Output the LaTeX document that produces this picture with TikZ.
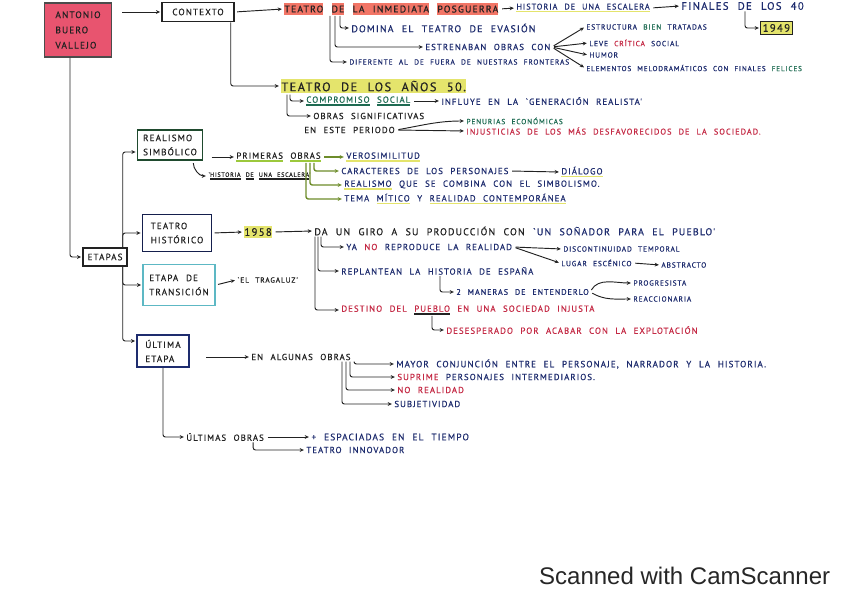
\documentclass[tikz,border=0pt]{standalone}
\usepackage{fontspec}
\setmainfont{Liberation Sans}
\newfontfamily\hand[LetterSpace=12,WordSpace={2.2},FakeBold=0.6]{PT Sans}
\usetikzlibrary{arrows.meta,positioning,calc}
\definecolor{boxred}{HTML}{E8546F}
\definecolor{hlred}{HTML}{F27566}
\definecolor{hlyel}{HTML}{E4E46C}
\definecolor{lime}{HTML}{9CC83C}
\definecolor{ink}{HTML}{222222}
\definecolor{navy}{HTML}{1E2C6E}
\definecolor{redink}{HTML}{C42A45}
\definecolor{greenink}{HTML}{1E6B52}
\definecolor{dkgreen}{HTML}{1F4A2E}
\definecolor{cyanbox}{HTML}{5DB8C4}
\newcommand{\hilite}[2]{\setbox0\hbox{#2}\rlap{\color{#1}\rule[-1.8pt]{\wd0}{\dimexpr\ht0+3.6pt\relax}}\box0\relax}
\newcommand{\undl}[2]{\setbox0\hbox{#2}\rlap{\color{#1}\rule[-2.4pt]{\wd0}{1.1pt}}\box0\relax}

\begin{document}
\begin{tikzpicture}[x=0.03cm, y=-0.03cm,
    txt/.style={anchor=west, inner sep=1pt, text=ink, font=\hand\fontsize{7.5}{8.5}\selectfont},
    big/.style={txt, font=\hand\fontsize{9.2}{10}\selectfont},
    mid/.style={txt, font=\hand\fontsize{8.4}{9.5}\selectfont},
    sm/.style={txt, font=\hand\fontsize{6.3}{7}\selectfont},
    etbox/.style={draw=ink, line width=1.3pt, align=left, inner sep=2pt,
                  font=\hand\fontsize{7.8}{12}\selectfont, text=ink},
    arr/.style={-{Stealth[length=3.5pt,width=3.2pt]}, line width=0.8pt, ink,
                shorten >=1pt, shorten <=2pt},
    hook/.style={arr, rounded corners=2pt, shorten <=0pt},
    garr/.style={arr, lime!70!black, line width=1.2pt},
  ]
  \useasboundingbox (0,0) rectangle (848,599);

  % boxes
  \node[etbox, fill=boxred, draw=black!70, line width=1pt, minimum width=2cm,
        minimum height=1.62cm, font=\hand\fontsize{8}{13}\selectfont] (abv) at (78,30) {ANTONIO\\BUERO\\VALLEJO};
  \node[etbox, minimum width=2.16cm, minimum height=0.57cm] (ctx) at (198,12) {CONTEXTO};
  \node[etbox, minimum width=1.32cm, minimum height=0.54cm] (etapas) at (105,257) {ETAPAS};
  \node[etbox, draw=dkgreen, minimum width=1.95cm, minimum height=0.9cm] (realismo) at (170,145) {REALISMO\\SIMBÓLICO};
  \node[etbox, draw=navy!70!black, minimum width=2.07cm, minimum height=1.11cm] (historico) at (177,233) {TEATRO\\HISTÓRICO};
  \node[etbox, draw=cyanbox, minimum width=2.16cm, minimum height=1.23cm] (transicion) at (179,285) {ETAPA DE\\TRANSICIÓN};
  \node[etbox, draw=navy, minimum width=1.56cm, minimum height=0.96cm] (ultima) at (163,351) {ÚLTIMA\\ETAPA};

  % contexto
  \node[mid, font=\hand\fontsize{8.3}{9.5}\selectfont] (posg) at (283,9) {\hilite{hlred}{TEATRO} \hilite{hlred}{DE} \hilite{hlred}{LA INMEDIATA} \hilite{hlred}{POSGUERRA}};
  \node[txt, text=navy, font=\hand\fontsize{7}{8}\selectfont] (escal) at (515,8) {\undl{hlyel}{HISTORIA DE UNA ESCALERA}};
  \node[big, text=navy] (finales) at (680,6) {FINALES DE LOS 40};
  \node[big, fill=hlyel, draw=ink, line width=0.6pt, inner sep=2pt] (y1949) at (760,28) {1949};
  \node[mid, text=navy] (domina) at (350,28) {DOMINA EL TEATRO DE EVASIÓN};
  \node[txt, text=navy] (estren) at (424,47) {ESTRENABAN OBRAS CON};
  \node[sm, text=navy] (difer) at (348,62) {DIFERENTE AL DE FUERA DE NUESTRAS FRONTERAS};
  \node[sm, text=navy] (estruc) at (585,27) {ESTRUCTURA \textcolor{greenink}{BIEN} TRATADAS};
  \node[sm, text=navy] (leve) at (588,43) {LEVE \textcolor{redink}{CRÍTICA} SOCIAL};
  \node[sm, text=navy] (humor) at (588,55) {HUMOR};
  \node[sm, text=navy, font=\hand\fontsize{6.1}{7}\selectfont] (melo) at (585,68) {ELEMENTOS MELODRAMÁTICOS CON FINALES \textcolor{greenink}{FELICES}};

  \node[big, font=\hand\fontsize{10.5}{11}\selectfont] (anos) at (280,86) {\hilite{hlyel}{TEATRO DE LOS AÑOS 50.}};
  \node[txt, text=greenink] (compro) at (305,101) {\undl{greenink}{COMPROMISO} \undl{greenink}{SOCIAL}};
  \node[txt, text=navy] (influye) at (440,101) {INFLUYE EN LA `GENERACIÓN REALISTA'};
  \node[txt] (sig1) at (312,116) {OBRAS SIGNIFICATIVAS};
  \node[txt] (sig2) at (303,130) {EN ESTE PERIODO};
  \node[sm, text=greenink] (penur) at (465,121) {PENURIAS ECONÓMICAS};
  \node[sm, text=redink, font=\hand\fontsize{7.1}{8}\selectfont] (injus) at (465,131) {INJUSTICIAS DE LOS MÁS DESFAVORECIDOS DE LA SOCIEDAD.};

  % realismo simbolico
  \node[txt] (primeras) at (235,157) {\undl{lime}{PRIMERAS} \undl{lime}{OBRAS}};
  \node[sm, font=\hand\fontsize{5.2}{6}\selectfont] (hescal) at (207,176) {`\undl{ink}{HISTORIA} \undl{ink}{DE} \undl{ink}{UNA ESCALERA}'};
  \node[txt, text=navy] (verosi) at (345,157) {\undl{hlyel}{VEROSIMILITUD}};
  \node[txt, text=navy] (caract) at (340,171) {CARACTERES DE LOS PERSONAJES};
  \node[txt, text=navy] (dialogo) at (560,172) {\undl{hlyel}{DIÁLOGO}};
  \node[txt, text=navy] (realis) at (343,185) {\undl{hlyel}{REALISMO} QUE SE COMBINA CON EL SIMBOLISMO.};
  \node[txt, text=navy] (tema) at (343,199) {TEMA \undl{hlyel}{MÍTICO} Y \undl{hlyel}{REALIDAD CONTEMPORÁNEA}};

  % teatro historico
  \node[big] (y1958) at (243,232) {\hilite{hlyel}{1958}};
  \node[mid] (giro) at (313,231) {DA UN GIRO A SU PRODUCCIÓN CON \textcolor{navy}{`UN SOÑADOR PARA EL PUEBLO'}};
  \node[txt, text=navy] (yano) at (345,247) {YA \textcolor{redink}{NO} REPRODUCE LA REALIDAD};
  \node[sm, text=navy] (discont) at (562,249) {DISCONTINUIDAD TEMPORAL};
  \node[sm, text=navy] (lugar) at (560,263) {LUGAR ESCÉNICO};
  \node[sm, text=navy] (abstr) at (660,265) {ABSTRACTO};
  \node[txt, text=navy] (replan) at (340,271) {REPLANTEAN LA HISTORIA DE ESPAÑA};
  \node[sm, text=navy, font=\hand\fontsize{6.9}{8}\selectfont] (maneras) at (455,292) {2 MANERAS DE ENTENDERLO};
  \node[sm, text=navy] (progre) at (632,283) {PROGRESISTA};
  \node[sm, text=navy] (reacc) at (632,299) {REACCIONARIA};
  \node[txt, text=redink] (destino) at (340,310) {DESTINO DEL \undl{ink}{PUEBLO} EN UNA SOCIEDAD INJUSTA};
  \node[txt, text=redink] (desesp) at (445,330) {DESESPERADO POR ACABAR CON LA EXPLOTACIÓN};

  \node[sm] (tragaluz) at (236,280) {`EL TRAGALUZ'};

  % ultima etapa
  \node[txt] (algunas) at (250,357) {EN ALGUNAS OBRAS};
  \node[txt, text=navy, font=\hand\fontsize{7.7}{8.5}\selectfont] (mayor) at (395,364) {MAYOR CONJUNCIÓN ENTRE EL PERSONAJE, NARRADOR Y LA HISTORIA.};
  \node[txt, text=navy] (suprime) at (396,377) {\textcolor{redink}{SUPRIME} PERSONAJES INTERMEDIARIOS.};
  \node[txt, text=redink] (norea) at (396,390) {NO REALIDAD};
  \node[txt, text=navy] (subjet) at (393,404) {SUBJETIVIDAD};
  \node[txt] (ultimas) at (185,437) {ÚLTIMAS OBRAS};
  \node[txt, text=navy, font=\hand\fontsize{8}{9}\selectfont] (espac) at (310,437) {+ ESPACIADAS EN EL TIEMPO};
  \node[txt, text=navy] (innov) at (305,450) {TEATRO INNOVADOR};

  \node[anchor=west, font=\fontsize{20.5}{24}\selectfont, text=black!85] (scan) at (535,576) {Scanned with CamScanner};

  % connectors
  \draw[arr] ($(abv.east |- ctx.west)+(8,0)$) -- (ctx.west);
  \draw[arr] (ctx.east) -- (posg.west);
  \draw[arr] (posg.east) -- (escal.west);
  \draw[arr] (escal.east) -- (finales.west);
  \draw[hook] ($(finales.south west)+(65,0)$) |- (y1949.west);
  \draw[hook] ($(posg.south west)+(57,0)$) |- (domina.west);
  \draw[hook] ($(posg.south west)+(52,0)$) |- (estren.west);
  \draw[hook] ($(posg.south west)+(47,0)$) |- (difer.west);
  \foreach \t in {estruc,leve,humor,melo}
    \draw[arr] (estren.east) -- (\t.west);

  \draw[hook] ($(ctx.south east)+(-4,0)$) |- (anos.west);
  \draw[hook] ($(anos.south west)+(10,0)$) |- (compro.west);
  \draw[hook] ($(anos.south west)+(7,0)$) |- (sig1.west);
  \draw[arr] (compro.east) -- (influye.west);
  \draw[arr] (sig2.east) to[out=10,in=180] (penur.west);
  \draw[arr] (sig2.east) -- (injus.west);

  \draw[hook] ($(abv.south)+(-8,0)$) |- (etapas.west);
  \draw[hook] ($(etapas.north east)+(-5,0)$) |- ($(realismo.west)+(0,7)$);
  \draw[hook] ($(etapas.north east)+(-5,0)$) |- (historico.west);
  \draw[hook] ($(etapas.south east)+(-5,0)$) |- (transicion.west);
  \draw[hook] ($(etapas.south east)+(-5,0)$) |- ($(ultima.west)+(0,-10)$);

  \draw[arr] ($(realismo.east |- primeras.west)+(6,0)$) -- (primeras.west);
  \draw[arr] ($(realismo.south east)+(-10,0)$) to[out=-90,in=180] (hescal.west);
  \draw[garr] (primeras.east) -- (verosi.west);
  \draw[garr, rounded corners=2pt, shorten <=0pt] ($(primeras.south east)+(-8,0)$) |- (caract.west);
  \draw[garr, rounded corners=2pt, shorten <=0pt] ($(primeras.south east)+(-12,0)$) |- (realis.west);
  \draw[garr, rounded corners=2pt, shorten <=0pt] ($(primeras.south east)+(-16,0)$) |- (tema.west);
  \draw[arr] (caract.east) -- (dialogo.west);

  \draw[arr] (historico.east) -- (y1958.west);
  \draw[arr] (y1958.east) -- (giro.west);
  \draw[hook] ($(giro.south west)+(8,0)$) |- (yano.west);
  \draw[hook] ($(giro.south west)+(5,0)$) |- (replan.west);
  \draw[hook] ($(giro.south west)+(2,0)$) |- (destino.west);
  \draw[arr] (yano.east) -- (discont.west);
  \draw[arr] (yano.east) -- (lugar.west);
  \draw[arr] (lugar.east) -- (abstr.west);
  \draw[hook] ($(replan.south west)+(100,0)$) |- (maneras.west);
  \draw[arr] (maneras.east) to[out=60,in=180] (progre.west);
  \draw[arr] (maneras.east) to[out=-30,in=180] (reacc.west);
  \draw[hook] ($(destino.south west)+(92,0)$) |- (desesp.west);

  \draw[arr] (transicion.east) -- (tragaluz.west);

  \draw[arr] ($(ultima.east |- algunas.west)+(14,0)$) -- (algunas.west);
  \foreach \t/\dx in {mayor/104,suprime/100,norea/96,subjet/92}
    \draw[hook] ($(algunas.south west)+(\dx,0)$) |- (\t.west);
  \draw[hook] (ultima.south) |- (ultimas.west);
  \draw[arr] (ultimas.east) -- (espac.west);
  \draw[hook] ($(ultimas.south east)+(-12,0)$) |- (innov.west);
\end{tikzpicture}
\end{document}
